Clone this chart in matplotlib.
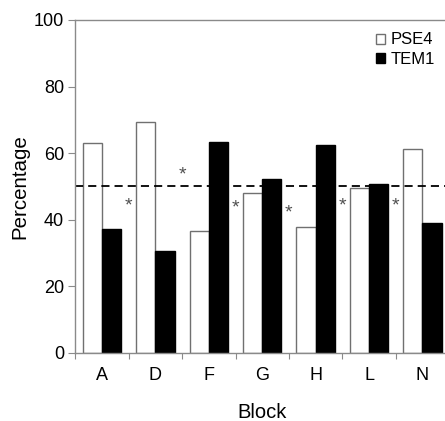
import matplotlib.pyplot as plt
import numpy as np

# data
blocks = ["A", "D", "F", "G", "H", "L", "N"]
pse4 = [63.1, 69.4, 36.7, 47.9, 37.9, 49.6, 61.1]
tem1 = [37.1, 30.7, 63.4, 52.2, 62.4, 50.6, 39.1]
star_pos = [0.5, 1.5, 2.5, 3.5, 4.5, 5.5]
star_y = [45.1, 54.6, 44.6, 42.9, 45.1, 45.1]
threshold = 50

plt.rcParams['font.family'] = ['Liberation Sans', 'DejaVu Sans']
GREY = "#8a8a8a"

fig = plt.figure(figsize=(4.45, 4.21), dpi=100)
ax = fig.add_axes([0.1693, 0.1622, 0.840, 0.7903])

x = np.arange(len(blocks))
w = 0.36
ax.bar(x - w / 2, pse4, w, color="white", edgecolor="#707070", linewidth=1.0, label="PSE4")
ax.bar(x + w / 2, tem1, w, color="black", edgecolor="black", linewidth=1.0, label="TEM1")
ax.axhline(threshold, color="black", linestyle=(0, (4.5, 2.8)), linewidth=1.3)

# significance marks, glyph sits high so nudge it down a bit
for px, py in zip(star_pos, star_y):
    ax.annotate("*", (px, py), xytext=(0, -2.5), textcoords="offset points",
                ha="center", va="center", fontsize=14, color="#505050")

ax.set_xlim(-0.5, len(blocks) - 0.5)
ax.set_ylim(0, 100)
ax.set_yticks([0, 20, 40, 60, 80, 100])
ax.set_xticks(np.arange(len(blocks) + 1) - 0.5)
ax.set_xticklabels([])
ax.set_xticks(x, blocks, minor=True)
ax.tick_params(axis="x", which="major", length=4, color=GREY, direction="out")
ax.tick_params(axis="x", which="minor", length=0, pad=10, labelsize=13)
ax.tick_params(axis="y", length=5, color=GREY, labelsize=13, pad=3)

for s in ["left", "top", "bottom"]:
    ax.spines[s].set_color(GREY)
    ax.spines[s].set_linewidth(1.0)
ax.spines["right"].set_visible(False)

ax.set_ylabel("Percentage", fontsize=14.8, labelpad=3.5)
ax.set_xlabel("Block", fontsize=14.5, labelpad=14)

fig.legend(loc="upper right", bbox_to_anchor=(0.977, 0.923), frameon=False,
           fontsize=12, handlelength=0.55, handleheight=0.55, handletextpad=0.3,
           labelspacing=0.26, borderaxespad=0, borderpad=0)

plt.savefig("out.png", dpi=100)
